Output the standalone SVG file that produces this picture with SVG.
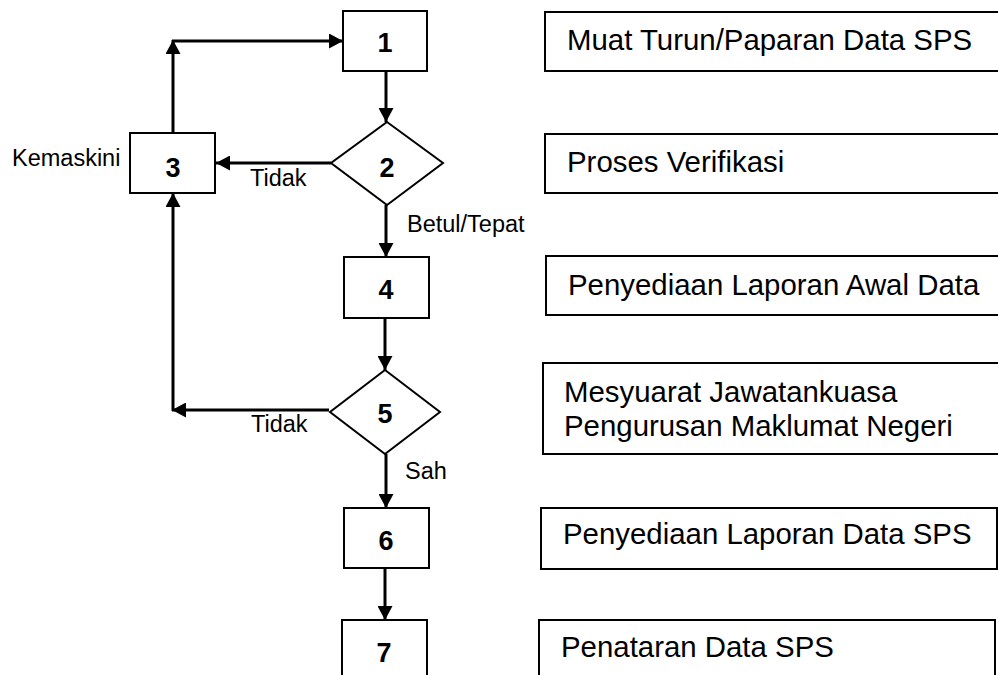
<svg xmlns="http://www.w3.org/2000/svg" width="998" height="675" viewBox="0 0 998 675">
<defs>
<marker id="arr" markerUnits="userSpaceOnUse" markerWidth="14" markerHeight="15" viewBox="0 0 14 15" refX="14" refY="7.5" orient="auto">
<path d="M0,0 L14,7.5 L0,15 Z" fill="#000"/>
</marker>
<style>
.box{fill:#fff;stroke:#000;stroke-width:2}
.num{font-family:"Liberation Sans",Arial,sans-serif;font-weight:bold;font-size:27px;text-anchor:middle;fill:#000}
.desc{font-family:"Liberation Sans",Arial,sans-serif;font-size:29.4px;fill:#000}
.lbl{font-family:"Liberation Sans",Arial,sans-serif;font-size:23.5px;fill:#000}
.con{fill:none;stroke:#000;stroke-width:3;marker-end:url(#arr)}
</style>
</defs>
<rect width="998" height="675" fill="#fff"/>
<g id="connectors">
<line class="con" x1="386" y1="71" x2="386" y2="122"/>
<line class="con" x1="331" y1="163" x2="216" y2="163"/>
<line class="con" x1="173" y1="133" x2="173" y2="40"/>
<line class="con" x1="172" y1="41" x2="343" y2="41"/>
<line class="con" x1="386" y1="205" x2="386" y2="257"/>
<line class="con" x1="385" y1="318" x2="385" y2="370"/>
<line class="con" x1="329" y1="410" x2="172" y2="410"/>
<line class="con" x1="173" y1="411" x2="173" y2="193"/>
<line class="con" x1="386" y1="454" x2="386" y2="508"/>
<line class="con" x1="385" y1="568" x2="385" y2="620"/>
<text class="lbl" x="250" y="186">Tidak</text>
<text class="lbl" x="407" y="232">Betul/Tepat</text>
<text class="lbl" x="251" y="432">Tidak</text>
<text class="lbl" x="405" y="479">Sah</text>
</g>
<g id="n1"><rect class="box" x="343" y="11" width="84" height="60"/><text class="num" x="385" y="52">1</text></g>
<g id="n2"><polygon class="box" points="387,122 443,163 387,205 331,163"/><text class="num" x="387" y="177">2</text></g>
<g id="n3"><rect class="box" x="130" y="133" width="85" height="60"/><text class="num" x="173" y="177">3</text><text class="lbl" x="12" y="166">Kemaskini</text></g>
<g id="n4"><rect class="box" x="344" y="257" width="85" height="61"/><text class="num" x="386" y="299">4</text></g>
<g id="n5"><polygon class="box" points="385,370 440,412 385,454 330,412"/><text class="num" x="385" y="423">5</text></g>
<g id="n6"><rect class="box" x="344" y="508" width="85" height="60"/><text class="num" x="386" y="550">6</text></g>
<g id="n7"><rect class="box" x="342" y="620" width="85" height="70"/><text class="num" x="384" y="662">7</text></g>
<g id="d1"><rect class="box" x="545" y="12" width="470" height="59"/><text class="desc" x="567" y="50">Muat Turun/Paparan Data SPS</text></g>
<g id="d2"><rect class="box" x="545" y="134" width="470" height="59"/><text class="desc" x="567" y="172">Proses Verifikasi</text></g>
<g id="d3"><rect class="box" x="546" y="256" width="470" height="59"/><text class="desc" x="568" y="295">Penyediaan Laporan Awal Data</text></g>
<g id="d4"><rect class="box" x="543" y="363" width="470" height="91"/><text class="desc" x="564" y="402">Mesyuarat Jawatankuasa</text><text class="desc" x="564" y="436">Pengurusan Maklumat Negeri</text></g>
<g id="d5"><rect class="box" x="541" y="508" width="456" height="61"/><text class="desc" x="563" y="544">Penyediaan Laporan Data SPS</text></g>
<g id="d6"><rect class="box" x="539" y="620" width="456" height="70"/><text class="desc" x="561" y="657">Penataran Data SPS</text></g>
</svg>
